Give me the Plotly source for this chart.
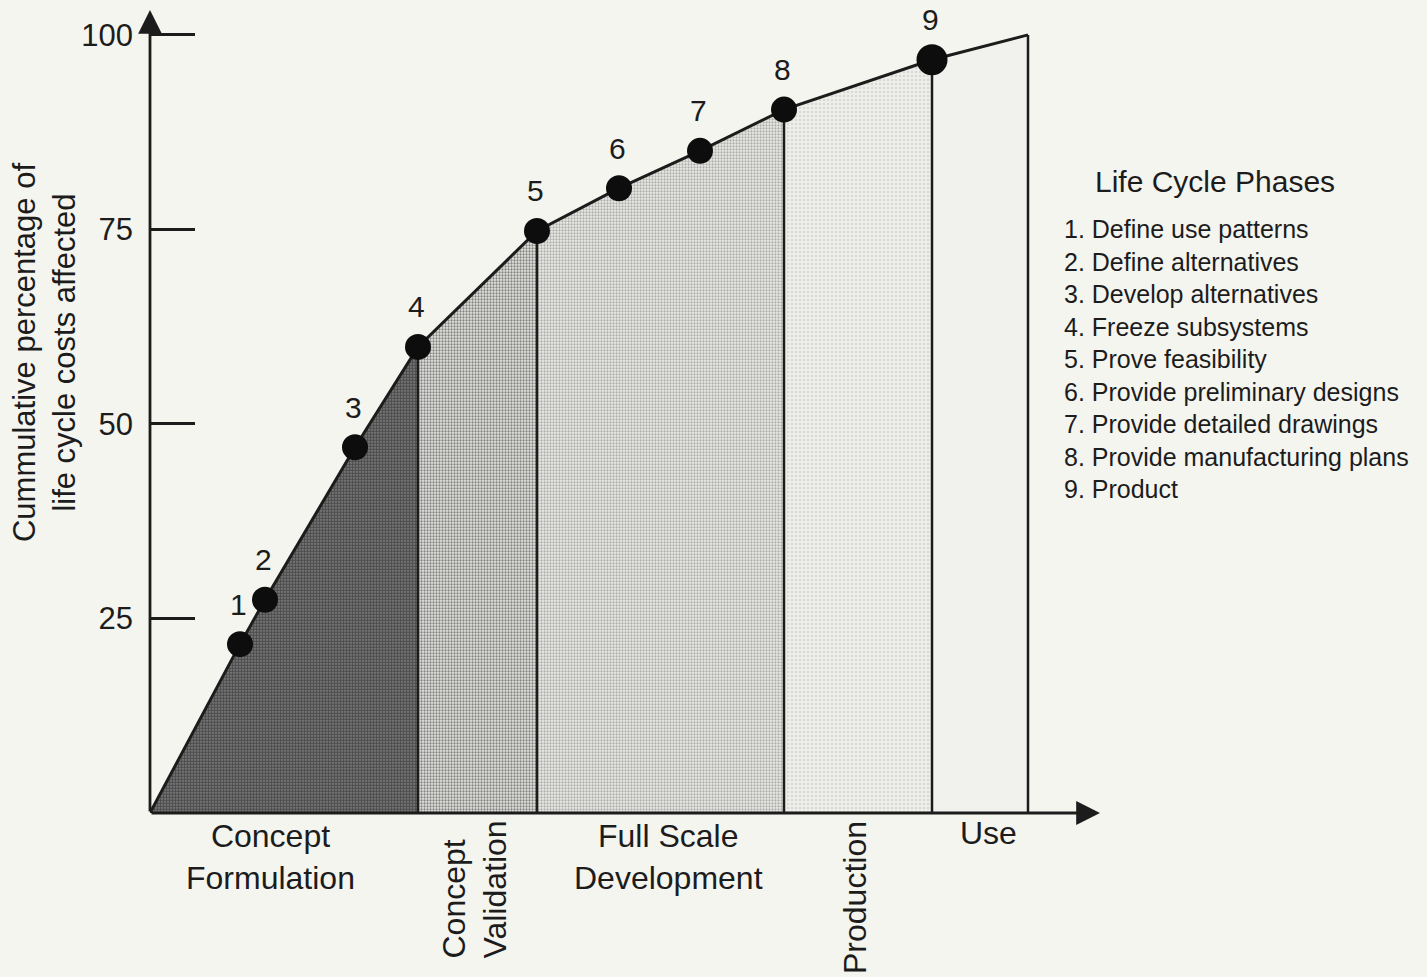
import plotly.graph_objects as go

# ---------------- data ----------------
# position along the life cycle (arbitrary horizontal units) and cumulative % of LCC affected
stage_x = [0, 90, 115, 205, 268, 387, 469, 550, 634, 782, 878]
cum_pct = [0, 21.7, 27.4, 47.0, 59.9, 74.8, 80.3, 85.1, 90.4, 96.8, 100]
milestones = ["1", "2", "3", "4", "5", "6", "7", "8", "9"]
# indices into stage_x that bound each phase
phase_bounds = [0, 4, 5, 8, 9, 10]
phase_names = ["Concept<br>Formulation", "Concept<br>Validation",
               "Full Scale<br>Development", "Production", "Use"]
y_ticks = [25, 50, 75, 100]
legend_title = "Life Cycle Phases"
legend_items = ["1. Define use patterns", "2. Define alternatives",
                "3. Develop alternatives", "4. Freeze subsystems",
                "5. Prove feasibility", "6. Provide preliminary designs",
                "7. Provide detailed drawings", "8. Provide manufacturing plans",
                "9. Product"]
y_title = "Cummulative percentage of<br>life cycle costs affected"

# ---------------- style ----------------
BG = "#f5f5f0"
INK = "#1c1c1c"
FONT = "Liberation Sans, Arial, Helvetica, sans-serif"
phase_patterns = [
    dict(shape=".", fgcolor="#0e0e0e", bgcolor="#8a8a8a", size=3, solidity=0.7),
    dict(shape=".", fgcolor="#1e1e1e", bgcolor="#e4e4e0", size=3, solidity=0.45),
    dict(shape=".", fgcolor="#707070", bgcolor="#ebebe7", size=3, solidity=0.45),
    dict(shape=".", fgcolor="#c0c0c0", bgcolor="#eeeeea", size=4, solidity=0.3),
    None,
]
phase_solid = ["#666666", "#b0b0b0", "#d4d4d4", "#e8e8e4", "#f1f1ed"]
phase_label_angle = [0, -90, 0, -90, 0]
phase_label_shift = [(-14, -44), (-3, -77), (8, -44), (-3, -85), (8, -20)]
marker_sizes = [26] * 8 + [31]

fig = go.Figure()

# shaded phase areas under the curve
for i in range(len(phase_names)):
    a, b = phase_bounds[i], phase_bounds[i + 1]
    kw = dict(x=stage_x[a:b + 1], y=cum_pct[a:b + 1], mode="none",
              fill="tozeroy", fillcolor=phase_solid[i], hoverinfo="skip",
              showlegend=False)
    if phase_patterns[i] is not None:
        kw["fillpattern"] = phase_patterns[i]
    fig.add_trace(go.Scatter(**kw))

# vertical phase boundaries
vx, vy = [], []
for k in phase_bounds[1:]:
    vx += [stage_x[k], stage_x[k], None]
    vy += [0, cum_pct[k], None]
fig.add_trace(go.Scatter(x=vx, y=vy, mode="lines",
                         line=dict(color=INK, width=2.5), hoverinfo="skip",
                         showlegend=False))

# cumulative curve
fig.add_trace(go.Scatter(x=stage_x, y=cum_pct, mode="lines",
                         line=dict(color=INK, width=3), hoverinfo="skip",
                         showlegend=False))

# milestone markers
fig.add_trace(go.Scatter(x=stage_x[1:10], y=cum_pct[1:10], mode="markers",
                         marker=dict(color="#0d0d0d", size=marker_sizes, opacity=1,
                                     line=dict(width=0)),
                         cliponaxis=False, showlegend=False))

annotations = []
# milestone numbers
for i, lab in enumerate(milestones):
    annotations.append(dict(x=stage_x[i + 1], y=cum_pct[i + 1], text=lab,
                            showarrow=False, xshift=-2, yshift=40,
                            font=dict(family=FONT, size=30, color=INK)))

# axes with arrows
annotations.append(dict(x=stage_x[0] + 950, y=0, ax=stage_x[0], ay=0,
                        xref="x", yref="y", axref="x", ayref="y", text="",
                        showarrow=True, arrowhead=2, arrowsize=1.7,
                        arrowwidth=2.8, arrowcolor=INK, standoff=0))
annotations.append(dict(x=stage_x[0], y=103.2, ax=stage_x[0], ay=0,
                        xref="x", yref="y", axref="x", ayref="y", text="",
                        showarrow=True, arrowhead=2, arrowsize=1.7,
                        arrowwidth=2.8, arrowcolor=INK, standoff=0))

# phase labels under the axis
for i, name in enumerate(phase_names):
    a, b = phase_bounds[i], phase_bounds[i + 1]
    mid = (stage_x[a] + stage_x[b]) / 2
    dx, dy = phase_label_shift[i]
    annotations.append(dict(x=mid, y=0, text=name, showarrow=False,
                            xshift=dx, yshift=dy, textangle=phase_label_angle[i],
                            align="left" if phase_label_angle[i] else "center",
                            font=dict(family=FONT, size=32, color=INK)))

# y axis title
annotations.append(dict(x=-0.1116, y=0.574, xref="paper", yref="paper", text=y_title,
                        textangle=-90, showarrow=False, align="center",
                        xanchor="center", yanchor="middle",
                        font=dict(family=FONT, size=31, color=INK)))

# phase legend
annotations.append(dict(x=1.121, y=0.786, xref="paper", yref="paper", text=legend_title,
                        showarrow=False, xanchor="center", yanchor="middle",
                        font=dict(family=FONT, size=30, color=INK)))
annotations.append(dict(x=0.96, y=0.747, xref="paper", yref="paper",
                        text="<br>".join(legend_items), showarrow=False,
                        xanchor="left", yanchor="top", align="left",
                        font=dict(family=FONT, size=25, color=INK)))

fig.update_layout(
    width=1427, height=977,
    margin=dict(l=150, r=327, t=10, b=164),
    paper_bgcolor=BG, plot_bgcolor=BG,
    showlegend=False,
    annotations=annotations,
    xaxis=dict(range=[0, 950], showgrid=False, zeroline=False,
               showticklabels=False, ticks="", showline=False, fixedrange=True),
    yaxis=dict(range=[0, 103.2], showgrid=False, zeroline=False,
               tickvals=y_ticks, ticks="inside", ticklen=45, tickwidth=2.5,
               tickcolor=INK, showline=False, ticklabelstandoff=16,
               tickfont=dict(family=FONT, size=31, color=INK), fixedrange=True),
)

fig.write_html("out.html",
               config={"displayModeBar": False},
               post_script="document.body.style.margin='0';"
                           "document.body.style.overflow='hidden';"
                           "document.body.style.background='" + BG + "';")
